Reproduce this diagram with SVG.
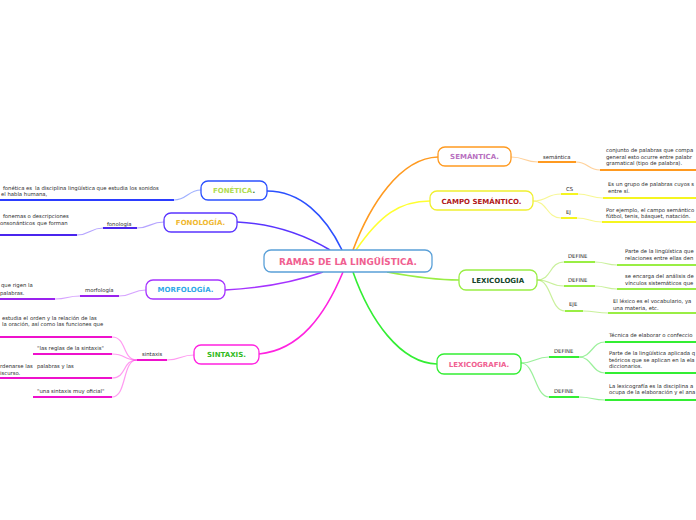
<svg xmlns="http://www.w3.org/2000/svg" width="696" height="520" viewBox="0 0 696 520">
<style>
.leaf{font-family:"DejaVu Sans",Verdana,sans-serif;font-size:5.3px;fill:#2a2a2a}
.sub{font-family:"DejaVu Sans",Verdana,sans-serif;font-size:5.3px;fill:#2a2a2a}
.nt{font-family:"DejaVu Sans",Verdana,sans-serif;font-size:7px;font-weight:bold;text-anchor:middle}
.box{fill:#fff;stroke-width:1.3}
.c{fill:none;stroke-width:1.6}
.cl{fill:none;stroke-width:1.2;stroke-opacity:0.45}
.u{fill:none;stroke-width:2}
</style>
<rect width="696" height="520" fill="#fff"/>
<g id="connectors">
  <path class="c" stroke="#2b50ff" d="M267,191 C300,191 325,215 342,250"/>
  <path class="c" stroke="#5a35ff" d="M237,222 C280,224 310,238 330,250"/>
  <path class="c" stroke="#a533ff" d="M225,290 C265,288 300,280 323,272"/>
  <path class="c" stroke="#ff22e0" d="M259,354 C300,350 325,315 343,272"/>
  <path class="c" stroke="#ff9a20" d="M353,250 C370,205 400,158 438,157"/>
  <path class="c" stroke="#ffff30" d="M356,250 C380,215 400,201 430,201"/>
  <path class="c" stroke="#99ee44" d="M387,272 C420,278 440,280 459,280"/>
  <path class="c" stroke="#33ee33" d="M353,272 C370,320 400,363 437,364"/>
  <path class="cl" stroke="#2b50ff" d="M201,190 C188,190 187,200 174,200"/>
  <path class="u" stroke="#2b3cff" d="M0,200 H174"/>
  <path class="cl" stroke="#5a35ff" d="M164,222 C150,222 150,228 137,228"/>
  <path class="u" stroke="#4a25ee" d="M103,228 H137"/>
  <path class="cl" stroke="#5a35ff" d="M103,228 C90,228 90,235 77,235"/>
  <path class="u" stroke="#4a25ee" d="M0,235 H77"/>
  <path class="cl" stroke="#a533ff" d="M146,290 C132,290 133,296 119,296"/>
  <path class="u" stroke="#9a22ee" d="M80,296 H119"/>
  <path class="cl" stroke="#a533ff" d="M80,296 C67,296 68,299 55,299"/>
  <path class="u" stroke="#9a22ee" d="M0,299 H55"/>
  <path class="cl" stroke="#ff22e0" d="M194,355 C180,355 181,360 167,360"/>
  <path class="u" stroke="#ee11cc" d="M137,360 H167"/>
  <path class="cl" stroke="#ff22e0" d="M137,360 C122,360 127,337 112,337"/>
  <path class="cl" stroke="#ff22e0" d="M137,360 C122,360 127,354 112,354"/>
  <path class="cl" stroke="#ff22e0" d="M137,360 C122,360 127,378 112,378"/>
  <path class="cl" stroke="#ff22e0" d="M137,360 C122,360 127,397 112,397"/>
  <path class="u" stroke="#ee11cc" d="M0,337 H112"/>
  <path class="u" stroke="#ee11cc" d="M33,354 H112"/>
  <path class="u" stroke="#ee11cc" d="M0,378 H112"/>
  <path class="u" stroke="#ee11cc" d="M33,397 H112"/>
  <path class="cl" stroke="#ff9a20" d="M511,157 C525,157 524,162 538,162"/>
  <path class="u" stroke="#ff9a20" d="M538,162 H576"/>
  <path class="cl" stroke="#ff9a20" d="M576,162 C588,162 588,170 600,170"/>
  <path class="u" stroke="#ff9a20" d="M600,170 H696"/>
  <path class="cl" stroke="#eeee10" d="M533,201 C548,201 546,194 561,194"/>
  <path class="cl" stroke="#eeee10" d="M533,201 C548,201 546,218 561,218"/>
  <path class="u" stroke="#f5f520" d="M561,194 H578"/>
  <path class="u" stroke="#f5f520" d="M561,218 H577"/>
  <path class="cl" stroke="#eeee10" d="M578,194 C590,194 591,198 603,198"/>
  <path class="cl" stroke="#eeee10" d="M577,218 C590,218 589,222 602,222"/>
  <path class="u" stroke="#f5f520" d="M603,198 H696"/>
  <path class="u" stroke="#f5f520" d="M602,222 H696"/>
  <path class="cl" stroke="#88dd22" d="M537,280 C552,280 549,262 564,262"/>
  <path class="cl" stroke="#88dd22" d="M537,280 C552,280 549,286 564,286"/>
  <path class="cl" stroke="#88dd22" d="M537,280 C552,280 550,311 565,311"/>
  <path class="u" stroke="#99ee44" d="M564,262 H595"/>
  <path class="u" stroke="#99ee44" d="M564,286 H595"/>
  <path class="u" stroke="#99ee44" d="M565,311 H583"/>
  <path class="cl" stroke="#88dd22" d="M595,262 C606,262 606,265 617,265"/>
  <path class="cl" stroke="#88dd22" d="M595,286 C606,286 606,289 617,289"/>
  <path class="cl" stroke="#88dd22" d="M583,311 C595,311 596,313 608,313"/>
  <path class="u" stroke="#99ee44" d="M617,265 H696"/>
  <path class="u" stroke="#99ee44" d="M617,289 H696"/>
  <path class="u" stroke="#99ee44" d="M608,313 H696"/>
  <path class="cl" stroke="#22dd22" d="M521,363 C535,363 535,357 549,357"/>
  <path class="cl" stroke="#22dd22" d="M521,363 C535,363 535,397 549,397"/>
  <path class="u" stroke="#33ee33" d="M549,357 H579"/>
  <path class="u" stroke="#33ee33" d="M549,397 H579"/>
  <path class="cl" stroke="#22dd22" d="M579,357 C592,357 592,342 605,342"/>
  <path class="cl" stroke="#22dd22" d="M579,357 C592,357 592,373 605,373"/>
  <path class="cl" stroke="#22dd22" d="M579,397 C592,397 592,400 605,400"/>
  <path class="u" stroke="#33ee33" d="M605,342 H696"/>
  <path class="u" stroke="#33ee33" d="M605,373 H696"/>
  <path class="u" stroke="#33ee33" d="M605,400 H696"/>
</g>
<g id="central">
  <rect class="box" x="264" y="250" width="168" height="22" rx="7" stroke="#5aa0d8"/>
  <text x="348" y="264.5" font-family="DejaVu Sans,Verdana,sans-serif" font-size="8.9" font-weight="bold" fill="#f06090" text-anchor="middle">RAMAS DE LA LINGÜÍSTICA.</text>
</g>
<g id="fonetica">
  <rect class="box" x="201" y="181" width="66" height="19" rx="7" stroke="#2b50ff"/>
  <text class="nt" x="234" y="193" fill="#b0dc50">FONÉTICA<tspan fill="#2a6a2a">.</tspan></text>
  <text class="leaf" x="3" y="190">fonética es</text>
  <text class="leaf" x="35" y="190">la disciplina lingüística que estudia los sonidos</text>
  <text class="leaf" x="1" y="196">el habla humana,</text>
</g>
<g id="fonologia">
  <rect class="box" x="164" y="213" width="73" height="19" rx="7" stroke="#5a35ff"/>
  <text class="nt" x="200.5" y="225" fill="#f0b830">FONOLOGÍA.</text>
  <text class="sub" x="107" y="225.5">fonología</text>
  <text class="leaf" x="3" y="218">fonemas o descripciones</text>
  <text class="leaf" x="0" y="224.5">onsonánticos</text>
  <text class="leaf" x="37" y="225">que forman</text>
</g>
<g id="morfologia">
  <rect class="box" x="146" y="280" width="79" height="19" rx="7" stroke="#a533ff"/>
  <text class="nt" x="185.5" y="292" fill="#30a8e8">MORFOLOGÍA.</text>
  <text class="sub" x="85" y="292">morfología</text>
  <text class="leaf" x="1" y="287">que rigen la</text>
  <text class="leaf" x="0" y="295">palabras.</text>
</g>
<g id="sintaxis">
  <rect class="box" x="194" y="345" width="65" height="19" rx="7" stroke="#ff22e0"/>
  <text class="nt" x="226.5" y="357" fill="#33bb22">SINTAXIS.</text>
  <text class="sub" x="142" y="356">sintaxis</text>
  <text class="leaf" x="2" y="319.5">estudia el</text>
  <text class="leaf" x="30" y="319.5">orden y la relación de las</text>
  <text class="leaf" x="2" y="326">la oración, así como las funciones que</text>
  <text class="leaf" x="37" y="350">"las reglas de la sintaxis"</text>
  <text class="leaf" x="0" y="368">rdenarse las</text>
  <text class="leaf" x="37" y="368">palabras y las</text>
  <text class="leaf" x="0" y="374.5">iscurso.</text>
  <text class="leaf" x="37" y="392.5">"una sintaxis muy oficial"</text>
</g>
<g id="semantica">
  <rect class="box" x="438" y="147" width="73" height="19" rx="7" stroke="#ff9a20"/>
  <text class="nt" x="474.5" y="159" fill="#b870c0">SEMÁNTICA.</text>
  <text class="sub" x="543" y="158.5">semántica</text>
  <text class="leaf" x="606" y="152">conjunto de palabras que compa</text>
  <text class="leaf" x="606" y="158.5">general esto ocurre entre palabr</text>
  <text class="leaf" x="606" y="165">gramatical (tipo de palabra).</text>
</g>
<g id="campo">
  <rect class="box" x="430" y="191" width="103" height="19" rx="7" stroke="#f0f030"/>
  <text class="nt" x="481.5" y="203.5" fill="#b01818">CAMPO SEMÁNTICO.</text>
  <text class="sub" x="566" y="190.5">CS</text>
  <text class="sub" x="566" y="214">EJ</text>
  <text class="leaf" x="608" y="186">Es un grupo de palabras cuyos s</text>
  <text class="leaf" x="608" y="192.5">entre sí.</text>
  <text class="leaf" x="606" y="211.5">Por ejemplo, el campo semántico</text>
  <text class="leaf" x="606" y="218">fútbol, tenis, básquet, natación.</text>
</g>
<g id="lexicologia">
  <rect class="box" x="459" y="270" width="78" height="20" rx="7" stroke="#99ee44"/>
  <text class="nt" x="498" y="282.5" fill="#14452a">LEXICOLOGIA</text>
  <text class="sub" x="568" y="257.5">DEFINE</text>
  <text class="sub" x="568" y="281.5">DEFINE</text>
  <text class="sub" x="569" y="306">EJE</text>
  <text class="leaf" x="625" y="253">Parte de la lingüística que</text>
  <text class="leaf" x="625" y="259.5">relaciones entre ellas den</text>
  <text class="leaf" x="625" y="278">se encarga del análisis de</text>
  <text class="leaf" x="625" y="284.5">vínculos sistemáticos que</text>
  <text class="leaf" x="613" y="303">El léxico es el vocabulario, ya</text>
  <text class="leaf" x="613" y="309.5">una materia, etc.</text>
</g>
<g id="lexicografia">
  <rect class="box" x="437" y="354" width="84" height="20" rx="7" stroke="#33ee33"/>
  <text class="nt" x="479" y="366.5" fill="#f06090">LEXICOGRAFIA.</text>
  <text class="sub" x="554" y="352.5">DEFINE</text>
  <text class="sub" x="554" y="392.5">DEFINE</text>
  <text class="leaf" x="609" y="337">Técnica de elaborar o confeccio</text>
  <text class="leaf" x="609" y="355">Parte de la lingüística aplicada q</text>
  <text class="leaf" x="609" y="361.5">teóricos que se aplican en la ela</text>
  <text class="leaf" x="609" y="368">diccionarios.</text>
  <text class="leaf" x="609" y="387.5">La lexicografía es la disciplina a</text>
  <text class="leaf" x="609" y="394">ocupa de la elaboración y el ana</text>
</g>
</svg>
